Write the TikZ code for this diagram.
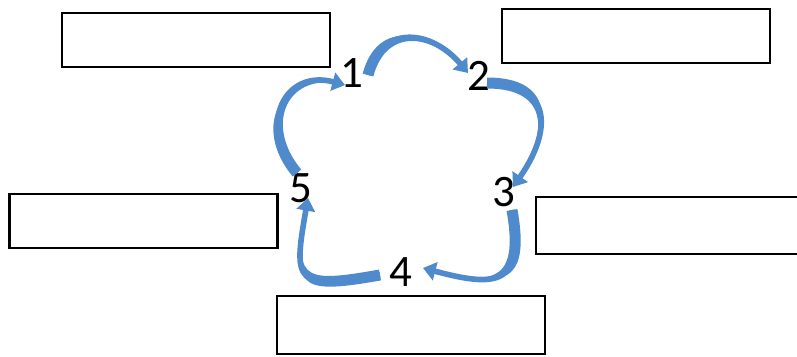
\documentclass[tikz,border=0pt]{standalone}
\usepackage{fontspec}
\setmainfont{Carlito}
\usetikzlibrary{arrows.meta}
\definecolor{petalblue}{RGB}{79,138,204}
\tikzset{
  blank/.style={draw=black, line width=1.8pt, minimum width=6.7cm, minimum height=1.35cm, inner sep=0pt},
  stage/.style={font=\fontsize{32}{32}\selectfont, inner sep=0pt},
  petal/.style={fill=petalblue},
  petal tip/.style={draw=petalblue, line width=4pt, -{Triangle[length=9pt,width=13pt]}}
}
\begin{document}
\begin{tikzpicture}[x=0.025cm, y=0.025cm]
    \useasboundingbox (0,0) rectangle (797,356);
    % Empty boxes
    \node[blank] (boxa) at (196,316) {};
    \node[blank] (boxb) at (636,320) {};
    \node[blank] (boxc) at (143.5,135) {};
    \node[blank, minimum height=1.425cm] (boxd) at (670,130.5) {};
    \node[blank, minimum height=1.45cm] (boxe) at (411,31) {};
    % Stage numbers
    \node[stage] (n1) at (352,283) {1};
    \node[stage] (n2) at (479,280) {2};
    \node[stage] (n3) at (504,164) {3};
    \node[stage] (n4) at (401,84) {4};
    \node[stage] (n5) at (301,168) {5};
    % Curved arrows
    \foreach \a/\b/\ta/\tb/\o/\i/\l in {n1/n2/{16,-2}/{-11,3}/75/130/1.4,
        n2/n3/{8,-7}/{9,5}/0/55/1.6,
        n3/n4/{8,-18}/{22,4}/-80/-15/1.85,
        n4/n5/{-21,-3}/{7,-10}/190/-100/2.1,
        n5/n1/{-4,15}/{-7,-12}/130/165/1.6}
    {
        \coordinate (tail) at ([shift={(\ta)}]\a.center);
        \coordinate (head) at ([shift={(\tb)}]\b.center);
        \fill[petal] ([shift={({\o+90}:5.5)}]tail) to[out=\o, in=\i, looseness=\l] (head)
            to[out=\i, in=\o, looseness=\l] ([shift={({\o-90}:5.5)}]tail) -- cycle;
        \draw[petal tip] (tail) to[out=\o, in=\i, looseness=\l] (head);
    }
\end{tikzpicture}
\end{document}
